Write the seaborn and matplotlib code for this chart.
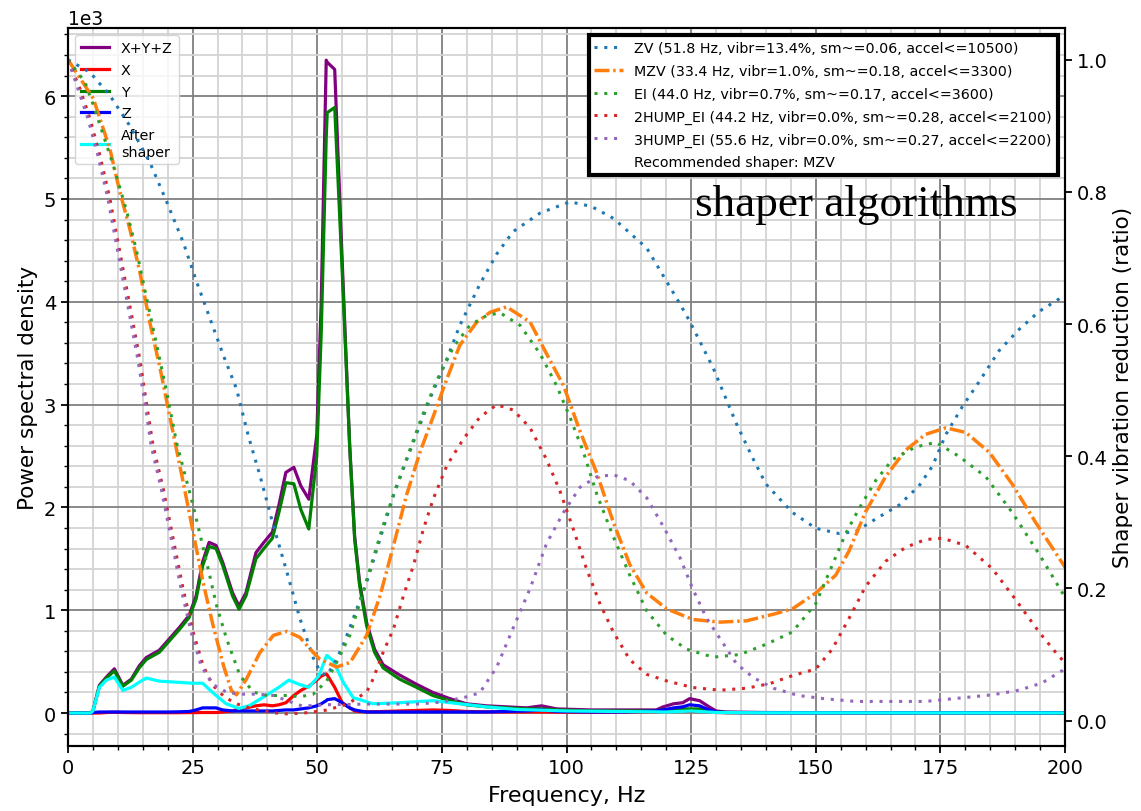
import matplotlib
matplotlib.use("Agg")
import matplotlib.pyplot as plt
import matplotlib.ticker as ticker
import seaborn as sns

# PSD curves (values in units of 1e3)
freq_psd = [0, 4.5, 5, 6.3, 7.7, 9.3, 11, 12.7, 14.3, 15.7, 18.3, 20.3, 22.3, 24.3,
            25.7, 27, 28.3, 29.7, 31, 33, 34.3, 35.7, 37.7, 39.3, 41, 42.3, 43.7,
            45.3, 46.7, 48.3, 49.9, 50.8, 51.8, 52.0, 53.5, 55, 56.5, 57.5, 58.5,
            59.9, 61.5, 63.2, 66.5, 69.9, 73.2, 76.6, 79.9, 83.9, 88, 92, 95, 98,
            105, 112, 118, 119.4, 121.5, 123.3, 124.7, 126.7, 128.6, 130, 132,
            140, 160, 180, 200]
psd_sum = [0, 0, 0.02, 0.27, 0.35, 0.43, 0.27, 0.33, 0.46, 0.54, 0.61, 0.72, 0.83, 0.95,
           1.14, 1.47, 1.66, 1.63, 1.47, 1.17, 1.04, 1.17, 1.56, 1.66, 1.76, 2.02, 2.34,
           2.39, 2.21, 2.08, 2.70, 4.00, 6.35, 6.33, 6.26, 4.40, 2.60, 1.72, 1.27,
           0.88, 0.62, 0.47, 0.37, 0.28, 0.20, 0.14, 0.09, 0.07, 0.06, 0.05, 0.07, 0.04,
           0.03, 0.03, 0.03, 0.06, 0.09, 0.10, 0.14, 0.12, 0.06, 0.02, 0.01,
           0.005, 0.003, 0.003, 0.002]
psd_y = [0, 0, 0.02, 0.26, 0.34, 0.41, 0.26, 0.32, 0.44, 0.52, 0.59, 0.70, 0.81, 0.93,
         1.11, 1.43, 1.62, 1.60, 1.44, 1.14, 1.01, 1.14, 1.50, 1.60, 1.70, 1.95, 2.24,
         2.23, 1.98, 1.79, 2.50, 3.70, 5.60, 5.84, 5.89, 4.30, 2.60, 1.69, 1.24,
         0.85, 0.59, 0.44, 0.33, 0.25, 0.17, 0.12, 0.08, 0.06, 0.05, 0.04, 0.04, 0.03,
         0.02, 0.02, 0.02, 0.03, 0.03, 0.04, 0.04, 0.04, 0.02, 0.01, 0.005,
         0.003, 0.002, 0.002, 0.001]
psd_x = [0, 0, 0.0, 0.0, 0.005, 0.008, 0.005, 0.004, 0.003, 0.003, 0.003, 0.003, 0.003, 0.004,
         0.004, 0.005, 0.005, 0.005, 0.01, 0.02, 0.04, 0.05, 0.07, 0.08, 0.07, 0.08, 0.10,
         0.17, 0.22, 0.26, 0.32, 0.36, 0.38, 0.37, 0.25, 0.10, 0.05, 0.02, 0.015,
         0.012, 0.012, 0.015, 0.02, 0.025, 0.03, 0.025, 0.015, 0.012, 0.01, 0.01, 0.01, 0.008,
         0.008, 0.008, 0.01, 0.015, 0.02, 0.02, 0.02, 0.015, 0.01, 0.005, 0.003,
         0.002, 0.002, 0.002, 0.002]
psd_z = [0, 0, 0.005, 0.01, 0.01, 0.01, 0.01, 0.01, 0.01, 0.01, 0.01, 0.01, 0.012, 0.015,
         0.03, 0.05, 0.05, 0.05, 0.03, 0.02, 0.02, 0.02, 0.02, 0.02, 0.02, 0.025, 0.03,
         0.03, 0.04, 0.05, 0.07, 0.09, 0.12, 0.13, 0.14, 0.10, 0.05, 0.03, 0.02,
         0.01, 0.01, 0.01, 0.01, 0.01, 0.01, 0.01, 0.01, 0.01, 0.015, 0.02, 0.03, 0.015,
         0.01, 0.01, 0.02, 0.03, 0.05, 0.06, 0.08, 0.07, 0.03, 0.01, 0.005,
         0.002, 0.002, 0.002, 0.002]

freq_after = [0, 4.5, 5, 6.3, 7.7, 9.3, 11, 12.7, 14.3, 15.7, 18.3, 21.7, 25, 27, 29,
              31.7, 34.3, 36.3, 39.7, 42.3, 44.3, 46.3, 48.3, 50.3, 51.9, 53.2, 55.2,
              57.2, 61.2, 66.5, 73.2, 78.6, 83.9, 90, 100, 120, 125, 130, 140, 200]
psd_after = [0, 0, 0.02, 0.25, 0.32, 0.35, 0.22, 0.25, 0.30, 0.34, 0.31, 0.30, 0.29, 0.29, 0.20,
             0.09, 0.045, 0.07, 0.17, 0.25, 0.32, 0.28, 0.25, 0.36, 0.56, 0.51, 0.30,
             0.15, 0.09, 0.10, 0.12, 0.09, 0.06, 0.035, 0.02, 0.01, 0.02, 0.005, 0.002, 0.001]

# shaper response curves (ratio)
freq_zv = [0, 4.4, 8.4, 12.4, 16.4, 19.8, 23.1, 25.8, 28.5, 31.2, 33.8, 36.2, 38.5, 41.2,
           43.9, 46.5, 49.2, 50.5, 51.8, 53.2, 55.2, 57.2, 59.9, 62.6, 65.3, 68.2, 72.6,
           76, 78.6, 82.6, 86, 89.3, 94.7, 100.7, 105, 109.4, 116.1, 122.8, 124.8, 129.4,
           134.1, 137.5, 140, 142.2, 145.3, 150, 154.7, 158, 162, 166.7, 170.7, 173.4,
           176.1, 179.4, 182.7, 186.8, 190.8, 194.8, 198.8, 200]
zv_vals = [1.0, 0.981, 0.946, 0.90, 0.845, 0.785, 0.724, 0.664, 0.608, 0.552, 0.502, 0.43, 0.371, 0.295,
           0.225, 0.155, 0.095, 0.075, 0.068, 0.083, 0.114, 0.154, 0.209, 0.275, 0.341, 0.40, 0.487,
           0.547, 0.598, 0.66, 0.706, 0.74, 0.768, 0.785, 0.778, 0.76, 0.715, 0.63, 0.603, 0.534,
           0.449, 0.395, 0.358, 0.34, 0.315, 0.291, 0.283, 0.286, 0.305, 0.326, 0.355, 0.385,
           0.433, 0.475, 0.512, 0.56, 0.592, 0.619, 0.638, 0.645]

freq_mzv = [0, 5.1, 8.4, 10.4, 12.4, 14.4, 16.4, 18.5, 20.5, 23.1, 25.1, 27.1, 29.1, 31.2,
            32.8, 33.8, 35.8, 38.5, 41.2, 43.9, 46.5, 49.2, 50.5, 53.9, 56.6, 59.9, 62.6,
            65.3, 67.9, 70.6, 73.5, 76, 78.6, 82, 84.7, 88, 92.7, 96, 99.4, 102.7, 106.1,
            109.4, 112.7, 116.1, 120.1, 125.4, 130.8, 136.1, 141.5, 145.3, 150, 154, 156.7,
            160, 164, 168, 172, 176.1, 180.1, 184.8, 189.4, 194.1, 199.5, 200]
mzv_vals = [1.0, 0.941, 0.865, 0.80, 0.744, 0.679, 0.603, 0.532, 0.457, 0.361, 0.285, 0.209, 0.144, 0.083,
            0.045, 0.039, 0.063, 0.103, 0.129, 0.135, 0.126, 0.103, 0.093, 0.081, 0.088, 0.129, 0.189,
            0.265, 0.341, 0.406, 0.465, 0.517, 0.568, 0.603, 0.618, 0.626, 0.603, 0.555, 0.507, 0.438, 0.374,
            0.30, 0.236, 0.193, 0.169, 0.153, 0.149, 0.151, 0.161, 0.169, 0.193, 0.22, 0.257,
            0.316, 0.369, 0.409, 0.433, 0.443, 0.436, 0.406, 0.358, 0.30, 0.238, 0.232]

freq_ei = [0, 3.4, 5.1, 9.1, 11.8, 13.8, 15.8, 17.8, 19.8, 21.8, 25.1, 27.8, 29.8, 31.8,
           34.5, 37.2, 40, 44, 46.5, 49.2, 51.9, 54, 56.6, 58.6, 61.2, 63.2, 65.9, 68.6,
           71, 74, 77.3, 80.6, 84, 86.7, 90.7, 94.7, 98, 100.7, 103.4, 106.1, 109.4, 112.7,
           116.1, 120.1, 124.1, 129.4, 134.8, 140.2, 145.3, 150, 153.3, 156, 158.7, 162,
           165.4, 170, 174.1, 178.7, 184.1, 189.4, 194.8, 199.5, 200]
ei_vals = [1.0, 0.966, 0.931, 0.84, 0.77, 0.709, 0.638, 0.568, 0.497, 0.42, 0.325, 0.24, 0.174, 0.124,
           0.068, 0.043, 0.038, 0.038, 0.036, 0.040, 0.06, 0.09, 0.13, 0.18, 0.245, 0.295, 0.355, 0.41,
           0.46, 0.515, 0.565, 0.598, 0.613, 0.617, 0.598, 0.555, 0.507, 0.459, 0.406, 0.342, 0.278, 0.22,
           0.166, 0.129, 0.108, 0.096, 0.10, 0.116, 0.134, 0.177, 0.235, 0.283, 0.321, 0.363,
           0.395, 0.414, 0.421, 0.40, 0.369, 0.315, 0.252, 0.193, 0.188]

freq_2hump = [0, 2.4, 4.4, 6.4, 8.4, 10.4, 12.4, 14.4, 15.8, 17.1, 19.1, 21.1, 23.1, 25.1,
              27.1, 29.1, 31.5, 34, 37, 41, 44.2, 48, 52, 56, 59.9, 61.2, 63.2, 65.3, 67.3,
              69.3, 71.3, 73.3, 76, 79.3, 82.6, 86, 89.3, 92.7, 96, 98.7, 101.4, 104, 106.7,
              109.4, 112.7, 116.1, 120.1, 125.4, 130.8, 136.1, 140.8, 145.3, 150, 153.3,
              156.7, 160, 164, 168, 172, 175.4, 180.1, 185.4, 190.1, 194.8, 198.8, 200]
hump2_vals = [1.0, 0.956, 0.911, 0.855, 0.79, 0.709, 0.628, 0.547, 0.477, 0.415, 0.351, 0.275, 0.199, 0.134,
              0.083, 0.053, 0.035, 0.025, 0.018, 0.012, 0.010, 0.012, 0.016, 0.025, 0.043, 0.063, 0.103, 0.139, 0.189,
              0.235, 0.29, 0.336, 0.386, 0.426, 0.459, 0.478, 0.47, 0.443, 0.395, 0.347, 0.289, 0.23, 0.177,
              0.134, 0.092, 0.07, 0.06, 0.05, 0.046, 0.049, 0.056, 0.068, 0.078, 0.108,
              0.155, 0.203, 0.241, 0.262, 0.274, 0.276, 0.265, 0.23, 0.183, 0.134, 0.097, 0.088]

freq_3hump = [0, 2.0, 4.0, 6.0, 8.0, 10.0, 12.0, 14.0, 15.5, 16.7, 18.7, 20.7, 22.7, 24.7,
              26.7, 29.0, 31.8, 34.5, 38, 41.2, 44, 47, 52, 60, 70, 75, 80, 82.6, 86, 89.3,
              92.7, 96, 99.4, 102.7, 106.1, 109.4, 112.7, 116.1, 119.4, 122.8, 125.4, 128.1,
              130.8, 134.1, 137.5, 141.5, 146.5, 151.9, 158, 165, 172, 178.7, 185.4, 190.8,
              195.4, 199.5, 200]
hump3_vals = [1.0, 0.956, 0.911, 0.855, 0.79, 0.709, 0.628, 0.547, 0.477, 0.415, 0.351, 0.275, 0.199, 0.134,
              0.083, 0.055, 0.043, 0.040, 0.040, 0.038, 0.030, 0.022, 0.024, 0.025, 0.025, 0.028, 0.036, 0.042, 0.081, 0.140,
              0.20, 0.268, 0.315, 0.353, 0.369, 0.372, 0.363, 0.337, 0.294, 0.246, 0.198, 0.155,
              0.124, 0.086, 0.065, 0.049, 0.038, 0.033, 0.029, 0.029, 0.029, 0.034, 0.039, 0.046,
              0.057, 0.076, 0.08]

shaper_labels = [
    "ZV (51.8 Hz, vibr=13.4%, sm~=0.06, accel<=10500)",
    "MZV (33.4 Hz, vibr=1.0%, sm~=0.18, accel<=3300)",
    "EI (44.0 Hz, vibr=0.7%, sm~=0.17, accel<=3600)",
    "2HUMP_EI (44.2 Hz, vibr=0.0%, sm~=0.28, accel<=2100)",
    "3HUMP_EI (55.6 Hz, vibr=0.0%, sm~=0.27, accel<=2200)",
]
recommended = "Recommended shaper: MZV"

fig = plt.figure(figsize=(11.41, 8.12), dpi=100)
ax = fig.add_axes([0.0596, 0.0804, 0.8738, 0.8839])

lw = 2.3
for y, c, lab in [(psd_sum, "purple", "X+Y+Z"), (psd_x, "red", "X"),
                  (psd_y, "green", "Y"), (psd_z, "blue", "Z")]:
    sns.lineplot(x=freq_psd, y=[v * 1000 for v in y], ax=ax, color=c, label=lab,
                 linewidth=lw, legend=False)

ax2 = ax.twinx()
dotted = (0, (1, 2.2))
dashdot = (0, (4.3, 1.1, 0.7, 1.1))
shaper_data = [(freq_zv, zv_vals, dotted), (freq_mzv, mzv_vals, dashdot),
               (freq_ei, ei_vals, dotted), (freq_2hump, hump2_vals, dotted),
               (freq_3hump, hump3_vals, dotted)]
for i, (fx, vals, ls) in enumerate(shaper_data):
    sns.lineplot(x=fx, y=vals, ax=ax2, color=f"C{i}", label=shaper_labels[i],
                 linestyle=ls, linewidth=2.5 if ls == dashdot else 2.2, legend=False)
ax2.plot([], [], " ", label=recommended)

sns.lineplot(x=freq_after, y=[v * 1000 for v in psd_after], ax=ax, color="cyan",
             label="After\nshaper", linewidth=lw, legend=False)

ax.set_xlim(0, 200)
ax.set_ylim(-318, 6663)
ax2.set_ylim(-0.038, 1.048)

ax.set_xlabel("Frequency, Hz", fontsize=16, labelpad=6)
ax.set_ylabel("Power spectral density", fontsize=15.5)
ax2.set_ylabel("Shaper vibration reduction (ratio)", fontsize=15.5)

ax.ticklabel_format(axis="y", style="scientific", scilimits=(0, 0))
ax.yaxis.get_offset_text().set_fontsize(13.5)
ax.xaxis.set_minor_locator(ticker.MultipleLocator(5))
ax.yaxis.set_minor_locator(ticker.AutoMinorLocator())
ax.grid(which="major", color="grey", linewidth=1.3)
ax.grid(which="minor", color="lightgrey", linewidth=1.3)
for a in (ax, ax2):
    a.tick_params(which="major", labelsize=14, length=5, width=1.3)
    a.tick_params(which="minor", length=3, width=1.0)
    for s in a.spines.values():
        s.set_linewidth(1.5)

ax.legend(loc="upper left", fontsize=10.3, labelspacing=0.55)
leg2 = ax2.legend(loc="upper right", fontsize=10.3, labelspacing=0.62, fancybox=False,
                  framealpha=1, edgecolor="black")
leg2.get_frame().set_linewidth(3)

fig.text(695 / 1141, 1 - 216 / 812, "shaper algorithms", family="Liberation Serif",
         fontsize=32.5, va="baseline", ha="left")

fig.savefig("out.png", dpi=100)
